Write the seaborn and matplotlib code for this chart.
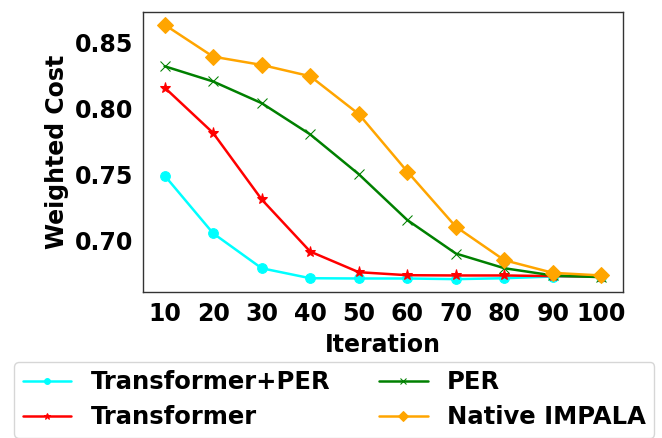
import matplotlib
matplotlib.use("Agg")
import matplotlib.pyplot as plt
import seaborn as sns
import pandas as pd

iterations = [10, 20, 30, 40, 50, 60, 70, 80, 90, 100]
transformer_per = [0.7491, 0.7051, 0.6785, 0.6709, 0.6707, 0.6707, 0.6702, 0.6709, 0.6722, 0.6722]
transformer = [0.8161, 0.7815, 0.7309, 0.6912, 0.6755, 0.6732, 0.6730, 0.6730, 0.6725, 0.6722]
per = [0.8323, 0.8207, 0.8042, 0.7804, 0.7501, 0.7152, 0.6897, 0.6785, 0.6730, 0.6717]
native_impala = [0.8639, 0.8396, 0.8333, 0.8247, 0.7959, 0.7521, 0.7101, 0.6846, 0.6750, 0.6730]

series_names = ["Transformer+PER", "Transformer", "PER", "Native IMPALA"]
series_values = [transformer_per, transformer, per, native_impala]
colors = ["cyan", "red", "green", "orange"]
markers = ["o", "*", "x", "D"]
msizes = [7, 8, 7, 8]

sns.set_style("white")
plt.rcParams["font.family"] = ["DejaVu Sans"]
plt.rcParams["font.weight"] = "bold"
plt.rcParams["text.color"] = "black"
plt.rcParams["axes.labelcolor"] = "black"
plt.rcParams["xtick.color"] = "black"
plt.rcParams["ytick.color"] = "black"

fig = plt.figure(figsize=(6.62, 4.38), dpi=100)
ax = fig.add_axes([0.2156, 0.3333, 0.726, 0.6393])

for name, vals, c, m, ms in zip(series_names, series_values, colors, markers, msizes):
    df = pd.DataFrame({"Iteration": iterations, "Cost": vals})
    sns.lineplot(data=df, x="Iteration", y="Cost", ax=ax, color=c, marker=m,
                 markersize=ms, markeredgecolor=c, linewidth=1.8, label=name)

ax.set_ylim(0.6604, 0.8736)
ax.set_xticks(iterations)
ax.set_yticks([0.70, 0.75, 0.80, 0.85])
ax.set_yticklabels(["0.70", "0.75", "0.80", "0.85"])
ax.tick_params(axis="both", labelsize=17, direction="out", length=4, width=1,
               color="#333333", labelcolor="black", pad=3)
for lab in ax.get_xticklabels() + ax.get_yticklabels():
    lab.set_fontweight("bold")
ax.set_xlabel("Iteration", fontsize=17, fontweight="bold", labelpad=5, color="black")
ax.set_ylabel("Weighted Cost", fontsize=17, fontweight="bold", color="black", labelpad=4)
for s in ax.spines.values():
    s.set_color("#333333")
    s.set_linewidth(1.0)

ax.get_legend().remove()
handles, labels = ax.get_legend_handles_labels()
leg = fig.legend(handles, labels, loc="lower center", bbox_to_anchor=(0.505, -0.027),
                 ncol=2, markerscale=0.6, frameon=True,
                 prop={"weight": "bold", "size": 17.5}, columnspacing=2.0,
                 handlelength=2.0, borderpad=0.35, labelspacing=0.45)
for t in leg.get_texts():
    t.set_color("black")

fig.savefig("out.png", dpi=100)
